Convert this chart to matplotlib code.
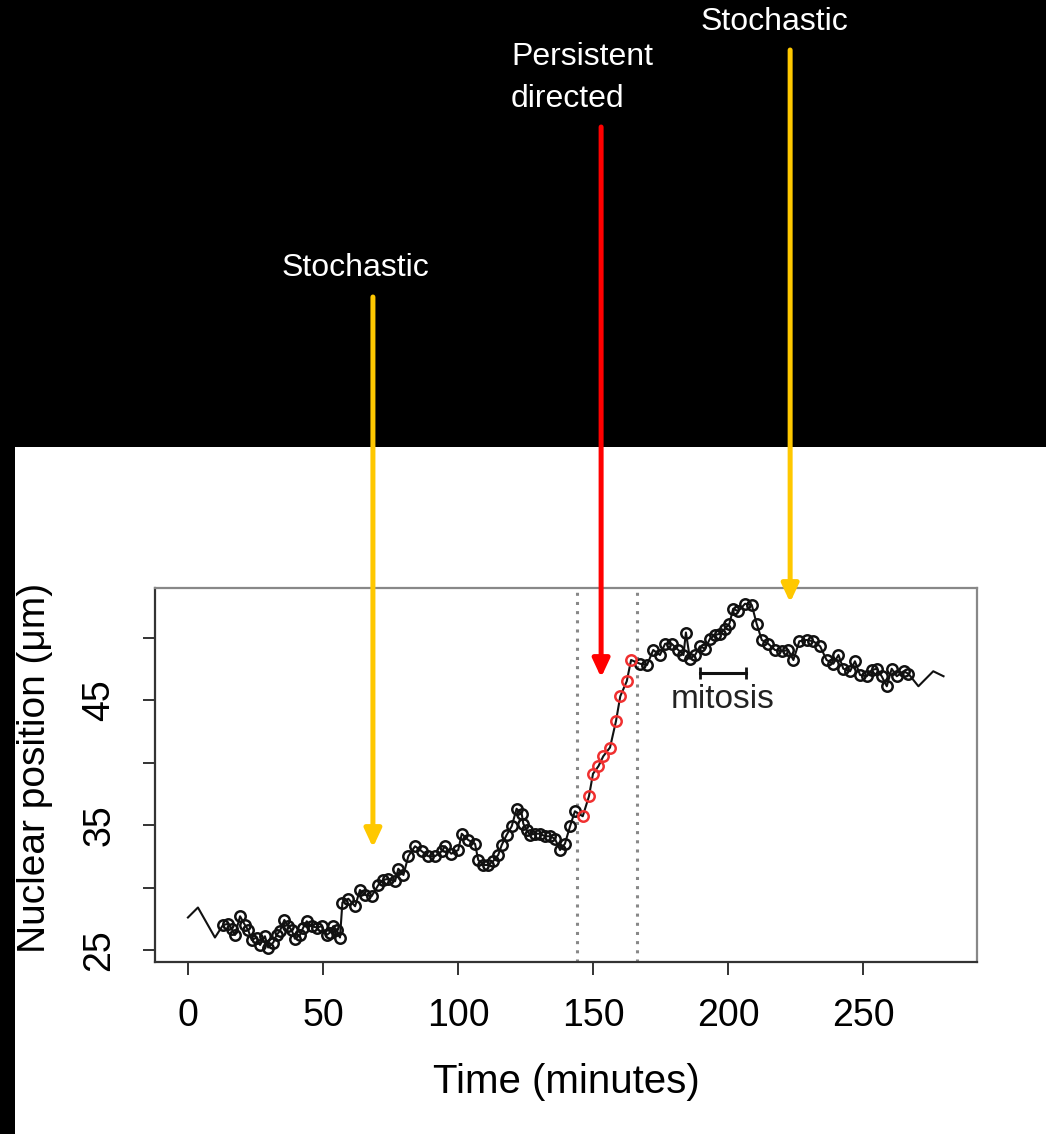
import numpy as np
import matplotlib
matplotlib.use("Agg")
import matplotlib.pyplot as plt
import matplotlib.transforms as mtransforms
from matplotlib.patches import Rectangle

plt.rcParams['font.family'] = ['Liberation Sans', 'DejaVu Sans']

# nuclear trajectory (minutes, um)
# lead-in, line only
t_lead = [0, 3.7, 10]
y_lead = [27.6, 28.4, 26.0]
# first stochastic phase (black circles)
t_stoch1 = [13, 15, 16.2, 17.4, 19.3, 21.1, 22.3, 23.6, 25.4, 26.7, 28.5, 29.7, 31.6, 32.8, 34,
            35.7, 37.2, 38.4, 39.6, 41.5, 42.7, 44, 45.8, 47.7, 49.5, 51.4, 52.6, 53.8, 55.1, 56.3,
            57.2, 59.4, 61.9, 63.7, 65.6, 68, 70.5, 72.3, 74.2, 76.7, 77.9, 79.8, 81.6, 84.1, 86.6,
            89, 91.5, 94, 95.2, 97.5, 100.1, 101.4, 103.8, 106.3, 107.5, 109.4, 111.2, 113, 114.9,
            116.2, 118, 119.9, 121.7, 123.6, 124.2, 125.4, 126.7, 128.5, 130.4, 132.2, 134.1, 135.9,
            137.8, 139.6, 141.5, 143.3]
y_stoch1 = [27.0, 27.1, 26.7, 26.2, 27.7, 27.0, 26.6, 25.8, 26.0, 25.4, 26.1, 25.2, 25.6, 26.2, 26.5,
            27.4, 26.9, 26.6, 25.9, 26.2, 26.8, 27.3, 26.9, 26.8, 26.9, 26.2, 26.4, 26.9, 26.6, 26.0,
            28.8, 29.1, 28.5, 29.8, 29.4, 29.3, 30.2, 30.6, 30.7, 30.5, 31.5, 31.0, 32.5, 33.3, 32.9,
            32.5, 32.5, 32.9, 33.3, 32.7, 33.0, 34.3, 33.8, 33.5, 32.2, 31.8, 31.8, 32.1, 32.6,
            33.4, 34.2, 34.9, 36.3, 35.9, 35.1, 34.6, 34.2, 34.3, 34.3, 34.1, 34.1, 33.9,
            33.0, 33.5, 34.9, 36.1]
# persistent directed phase (red circles)
t_directed = [146.2, 148.5, 150, 152, 153.8, 156.3, 158.5, 160.1, 162.5, 164.1]
y_directed = [35.7, 37.3, 39.1, 39.7, 40.5, 41.2, 43.3, 45.3, 46.5, 48.2]
# second stochastic phase (black circles)
t_stoch2 = [167.4, 170, 172.3, 174.8, 176.7, 179.1, 181.6, 183.5, 184.4, 185.9, 187.8, 189.6, 191.5,
            193.3, 195.2, 197, 198.9, 200.5, 201.9, 203.8, 206.3, 208.8, 210.6, 212.5, 214.9, 217.4,
            219.9, 222.3, 224.2, 226.4, 229.1, 231.6, 234.1, 236.5, 239, 240.9, 242.7, 245.2, 247,
            248.9, 251.4, 253.2, 255.1, 256.9, 258.8, 260.6, 262.5, 265, 266.8]
y_stoch2 = [47.9, 47.8, 49.0, 48.6, 49.5, 49.5, 49.0, 48.6, 50.4, 48.3, 48.6, 49.3, 49.1,
            49.9, 50.2, 50.3, 50.7, 51.1, 52.3, 52.1, 52.7, 52.6, 51.1, 49.8, 49.5, 49.0,
            48.9, 49.0, 48.2, 49.7, 49.8, 49.7, 49.3, 48.2, 47.9, 48.6, 47.5, 47.3, 48.1,
            47.0, 46.9, 47.4, 47.5, 46.9, 46.1, 47.5, 46.9, 47.3, 47.1]
# tail, line only
t_tail = [270.5, 276, 279.8]
y_tail = [46.1, 47.3, 46.9]

window_bounds = [144.1, 166.3]
mitosis_span = [189.6, 206.7]
mitosis_level = 47.15

xticks = [0, 50, 100, 150, 200, 250]
yticks = [25, 30, 35, 40, 45, 50]
ytick_labels = ['25', '', '35', '', '45', '']

# arrow tips (data) and labels
arrow_tips = [(68.5, 33.2), (153.0, 46.8), (223.0, 52.8)]
arrow_colors = ['#ffc800', '#ff0000', '#ffc800']
arrow_tail_y = [297, 127, 50]       # figure pixels from top
labels = ['Stochastic', 'Persistent\ndirected', 'Stochastic']

W, H = 1046, 1134
fig = plt.figure(figsize=(W / 100, H / 100), dpi=100, facecolor='black')
fig.add_artist(Rectangle((15 / W, 0), 1 - 15 / W, (H - 447) / H, transform=fig.transFigure,
                         facecolor='white', edgecolor='none', zorder=0))

ax = fig.add_axes([155 / W, (H - 962) / H, (977 - 155) / W, (962 - 588) / H])
ax.set_facecolor('white')

t_all = np.concatenate([t_lead, t_stoch1, t_directed, t_stoch2, t_tail])
y_all = np.concatenate([y_lead, y_stoch1, y_directed, y_stoch2, y_tail])
ax.plot(t_all, y_all, color='#111111', lw=1.5, zorder=2)
mk = dict(ls='none', marker='o', mfc='none', ms=7.5, mew=1.8, zorder=3)
ax.plot(t_stoch1, y_stoch1, mec='#111111', **mk)
ax.plot(t_stoch2, y_stoch2, mec='#111111', **mk)
ax.plot(t_directed, y_directed, mec='#f03030', **mk)

for xb in window_bounds:
    ax.axvline(xb, color='#888888', ls=(0, (1, 2)), lw=2.2, zorder=1)

ax.plot(mitosis_span, [mitosis_level] * 2, color='#111111', lw=2.2)
ax.plot(mitosis_span, [mitosis_level] * 2, ls='none', marker='|', ms=8, mew=2, color='#111111')
ax.text(np.mean(mitosis_span), 45.0, 'mitosis', fontsize=24, ha='center', va='center', color='#222222')

ax.set_xlim(-12.2, 292.2)
ax.set_ylim(24.04, 53.96)
ax.set_xticks(xticks)
ax.set_yticks(yticks)
ax.set_yticklabels(ytick_labels, rotation=90, va='center')
ax.tick_params(axis='both', labelsize=27, length=9, width=1.4, color='#333333', direction='out')
ax.tick_params(axis='x', pad=17)
ax.tick_params(axis='y', pad=18)
for side in ['left', 'bottom']:
    ax.spines[side].set_color('#333333')
    ax.spines[side].set_linewidth(1.6)
for side in ['top', 'right']:
    ax.spines[side].set_color('#888888')
    ax.spines[side].set_linewidth(1.6)

ax.set_xlabel('Time (minutes)', fontsize=29)
ax.xaxis.set_label_coords(0.5, -0.27)
ax.set_ylabel('Nuclear position (μm)', fontsize=28, va='center')
ax.yaxis.set_label_coords(-0.146, 0.52)

# arrows from the black band down to the trace
blend = mtransforms.blended_transform_factory(ax.transData, fig.transFigure)
for (tx, ty), col, tail in zip(arrow_tips, arrow_colors, arrow_tail_y):
    ax.annotate('', xy=(tx, ty), xycoords='data', xytext=(tx, 1 - tail / H), textcoords=blend,
                arrowprops=dict(arrowstyle='-|>,head_length=0.9,head_width=0.42', color=col,
                                lw=3.6, mutation_scale=12, shrinkA=0, shrinkB=0),
                annotation_clip=False, zorder=5)

fig.text(355 / W, 1 - 268 / H, labels[0], color='white', fontsize=23, ha='center', va='center')
fig.text(511 / W, 1 - 78 / H, labels[1], color='white', fontsize=23, ha='left', va='center',
         linespacing=1.5)
fig.text(774 / W, 1 - 22 / H, labels[2], color='white', fontsize=23, ha='center', va='center')

fig.savefig('out.png', dpi=100, facecolor='black')
